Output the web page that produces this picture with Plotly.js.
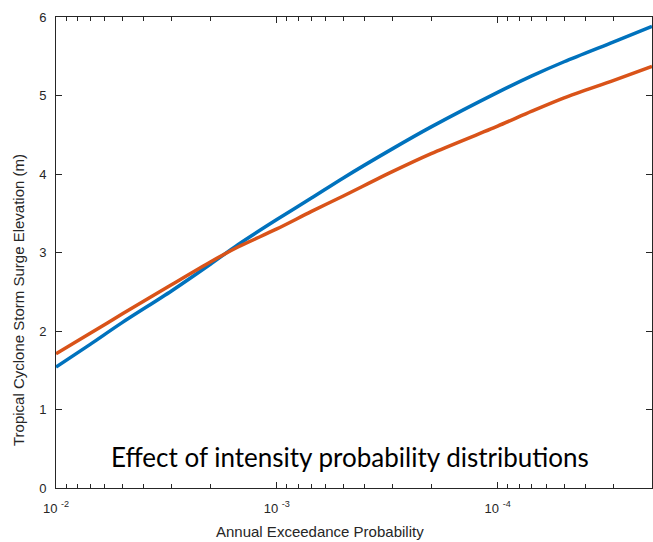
<!DOCTYPE html>
<html>
<head>
<meta charset="utf-8">
<script src="https://cdn.plot.ly/plotly-3.0.1.min.js"></script>
<style>
  html, body { margin: 0; padding: 0; background: #fff; }
  #chart { width: 653px; height: 542px; }
</style>
</head>
<body>
<div id="chart"></div>
<script>
// Annual exceedance probability (x, log scale, decreasing to the right)
const aep = [1e-2, 7e-3, 5e-3, 3e-3, 2e-3, 1.5e-3, 1e-3, 7e-4, 5e-4, 3e-4, 2e-4, 1e-4, 7e-5, 5e-5, 3e-5, 2e-5];

// Storm surge elevation (m) for the two intensity probability distributions
const surgeBlue   = [1.54, 1.83, 2.11, 2.51, 2.85, 3.10, 3.42, 3.69, 3.95, 4.32, 4.60, 5.04, 5.25, 5.43, 5.68, 5.88];
const surgeOrange = [1.71, 1.97, 2.22, 2.59, 2.88, 3.07, 3.30, 3.52, 3.72, 4.03, 4.26, 4.61, 4.80, 4.97, 5.19, 5.37];

// Major tick labels
const xTickVals = [1e-2, 1e-3, 1e-4];
const xTickText = ['10 <sup>-2</sup>', '10 <sup>-3</sup>', '10 <sup>-4</sup>'];
const yTickVals = [0, 1, 2, 3, 4, 5, 6];

// Minor ticks: 2..9 within each decade
const minorVals = [];
for (let e = -5; e <= -3; e++) {
  for (let d = 2; d <= 9; d++) minorVals.push(d * Math.pow(10, e));
}

const axisColor = '#262626';
const xRange = [-2, Math.log10(2e-5)];

const traces = [
  { x: aep, y: surgeBlue, mode: 'lines', line: { color: '#0072BD', width: 3.5, shape: 'spline', smoothing: 0.8 }, hoverinfo: 'x+y' },
  { x: aep, y: surgeOrange, mode: 'lines', line: { color: '#D95319', width: 3.5, shape: 'spline', smoothing: 0.8 }, hoverinfo: 'x+y' }
];

const layout = {
  width: 653,
  height: 542,
  margin: { l: 56, r: 1, t: 17, b: 54 },
  paper_bgcolor: '#fff',
  plot_bgcolor: '#fff',
  showlegend: false,
  font: { family: 'Liberation Sans, Arial, sans-serif', size: 13, color: axisColor },
  xaxis: {
    type: 'log',
    range: xRange,
    tickmode: 'array',
    tickvals: xTickVals,
    ticktext: xTickText,
    ticks: 'inside',
    ticklen: 6,
    tickcolor: axisColor,
    showgrid: false,
    zeroline: false,
    showline: true,
    linecolor: axisColor,
    linewidth: 1,
    mirror: 'allticks',
    ticklabelstandoff: 8,
    tickfont: { size: 13, color: axisColor },
    minor: { tickmode: 'array', tickvals: minorVals, ticks: 'inside', ticklen: 4, tickcolor: axisColor, showgrid: false }
  },
  yaxis: {
    range: [0, 6],
    tickmode: 'array',
    tickvals: yTickVals,
    ticks: 'inside',
    ticklen: 6,
    tickcolor: axisColor,
    showgrid: false,
    zeroline: false,
    showline: true,
    linecolor: axisColor,
    linewidth: 1,
    mirror: 'allticks',
    ticklabelstandoff: 6,
    tickfont: { size: 13, color: axisColor }
  },
  annotations: [
    {
      text: 'Effect of intensity probability distributions',
      xref: 'paper', yref: 'paper', x: 0.493, y: 0.066,
      xanchor: 'center', yanchor: 'middle', showarrow: false,
      font: { family: 'Lato, Open Sans, sans-serif', size: 26, color: '#000' }
    },
    {
      text: 'Annual Exceedance Probability',
      xref: 'paper', yref: 'paper', x: 0.443, y: -0.0934,
      xanchor: 'center', yanchor: 'middle', showarrow: false,
      font: { size: 15, color: axisColor }
    },
    {
      text: 'Tropical Cyclone Storm Surge Elevation (m)',
      xref: 'paper', yref: 'paper', x: -0.0638, y: 0.399,
      xanchor: 'center', yanchor: 'middle', showarrow: false, textangle: -90,
      font: { size: 15, color: axisColor }
    }
  ]
};

Plotly.newPlot('chart', traces, layout, { displayModeBar: false, staticPlot: true });
</script>
</body>
</html>
